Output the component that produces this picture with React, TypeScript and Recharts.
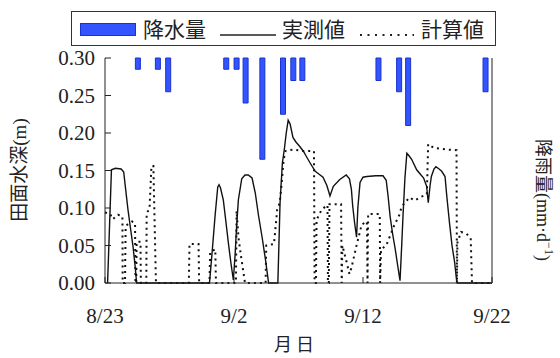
import { ComposedChart, Line, Bar, XAxis, YAxis } from "recharts";

const FONT = '"Liberation Serif", "Times New Roman", Tinos, "Noto Serif", "DejaVu Serif", serif';
const CJK = '"Noto Sans CJK JP", sans-serif';

// x axis: days after 8/23
const dateTicks = [0, 10, 20, 30];
const dateLabels = ["8/23", "9/2", "9/12", "9/22"];
const depthTicks = [0, 0.05, 0.1, 0.15, 0.2, 0.25, 0.3];
const rainTicks = [0, 5, 10, 15, 20];

// rainfall (mm/d), hanging from the top
const rainDays = [2.55, 4.1, 4.9, 9.4, 10.2, 10.9, 12.2, 13.8, 14.6, 15.3, 21.2, 22.8, 23.5, 29.5];
const rainMm = [1, 1, 3, 1, 1, 4, 9, 5, 2, 2, 2, 3, 6, 3];

// measured ponding depth (m)
const measuredDays = [
  0.2, 0.5, 0.8, 1.25, 1.45, 1.6, 1.78, 2.0, 2.17, 2.35, 2.45,
  8.1, 8.3, 8.53, 8.74, 8.84, 8.95, 9.17, 9.35, 9.56, 9.75, 9.95,
  10.08, 10.2, 10.34, 10.6, 10.85, 11.1, 11.4, 11.65, 11.9, 12.17, 12.45, 12.68,
  13.4, 13.57, 13.75, 13.9, 14.05, 14.2, 14.35, 14.57, 14.8, 15.1, 15.4, 15.6, 15.9,
  16.3, 16.6, 16.9, 17.2, 17.44, 17.7, 18.2, 18.7, 18.95, 19.1, 19.2, 19.35, 19.5,
  19.6, 19.77, 20.0, 20.3, 21.0, 21.55, 21.8, 21.95, 22.1, 22.3, 22.5, 22.7, 22.87,
  23.0, 23.1, 23.25, 23.4, 23.55, 23.77, 24.16, 24.4, 24.7, 24.93, 25.06, 25.2, 25.3,
  25.5, 25.65, 25.9, 26.1, 26.36, 26.5, 26.7, 26.9, 27.1, 27.26, 27.3, 30,
];
const measuredDepth = [
  0, 0.151, 0.153, 0.152, 0.148, 0.125, 0.098, 0.07, 0.049, 0.02, 0,
  0, 0.04, 0.089, 0.128, 0.131, 0.127, 0.111, 0.085, 0.054, 0.028, 0.004,
  0.036, 0.075, 0.111, 0.139, 0.144, 0.144, 0.14, 0.12, 0.09, 0.062, 0.03, 0,
  0, 0.107, 0.16, 0.178, 0.2, 0.217, 0.212, 0.194, 0.188, 0.182, 0.175, 0.169, 0.16,
  0.149, 0.145, 0.141, 0.13, 0.116, 0.129, 0.138, 0.144, 0.139, 0.125, 0.103, 0.08, 0.061,
  0.1, 0.134, 0.141, 0.142, 0.143, 0.143, 0.137, 0.115, 0.089, 0.065, 0.045, 0.022, 0.003,
  0.05, 0.089, 0.14, 0.173, 0.17, 0.165, 0.151, 0.146, 0.14, 0.129, 0.107, 0.13, 0.142,
  0.152, 0.155, 0.152, 0.149, 0.142, 0.115, 0.081, 0.05, 0.028, 0.003, 0, 0,
];

// calculated ponding depth (m)
const calcDays = [
  0, 0.4, 0.6, 1.0, 1.35, 1.37, 1.55, 1.6, 1.9, 2.1, 2.33, 2.36, 2.42, 2.45, 2.75, 2.78,
  3.2, 3.23, 3.45, 3.6, 3.75, 3.95, 6.5, 6.55, 7.25, 7.3, 8.1, 8.15, 8.55, 8.6,
  10.15, 10.2, 10.35, 10.55, 10.75, 10.85, 12.45, 12.5, 13.1, 13.35, 13.55, 13.7, 13.85, 14.0,
  14.6, 15.3, 16.2, 16.25, 16.35, 16.4, 16.8, 17.1, 17.25, 17.28, 17.35, 17.4, 18.3, 18.35,
  18.4, 18.7, 18.95, 19.1, 19.5, 19.9, 20.3, 20.35, 20.4, 21.3, 21.33, 21.4, 21.8, 22.1,
  22.4, 22.8, 23.0, 23.4, 23.6, 24.0, 24.5, 24.95, 25.05, 25.5, 26.5, 27.25, 27.28, 27.32,
  27.6, 28.0, 28.35, 28.45, 30,
];
const calcDepth = [
  0.094, 0.092, 0.085, 0.091, 0.089, 0, 0, 0.076, 0.08, 0.082, 0.08, 0, 0, 0.055, 0.055, 0,
  0, 0.094, 0.098, 0.156, 0.156, 0, 0, 0.052, 0.052, 0, 0, 0.041, 0.045, 0,
  0, 0.096, 0.06, 0.035, 0.012, 0, 0, 0.05, 0.052, 0.098, 0.107, 0.134, 0.165, 0.176,
  0.178, 0.176, 0.176, 0, 0, 0.084, 0.098, 0.102, 0.104, 0, 0, 0.105, 0.105, 0,
  0.05, 0.03, 0.012, 0.02, 0.05, 0.078, 0.082, 0, 0.092, 0.092, 0, 0.045, 0.05, 0.063,
  0.076, 0.09, 0.102, 0.11, 0.114, 0.11, 0.115, 0.118, 0.185, 0.18, 0.178, 0.177, 0, 0.054,
  0.068, 0.066, 0.06, 0, 0,
];

const rainData = rainDays.map((day, i) => ({ day, rain: rainMm[i] }));
const measuredData = measuredDays.map((day, i) => ({ day, depth: measuredDepth[i] }));
const calcData = calcDays.map((day, i) => ({ day, depth: calcDepth[i] }));

const tickStyle = { fill: "#222", fontSize: 21, fontFamily: FONT };

export default function App() {
  return (
    <div style={{ position: "absolute", left: 0, top: 0, width: 560, height: 358, background: "#fff" }}>
      <div style={{ position: "absolute", left: 0, top: 0 }}>
        <ComposedChart width={560} height={358} margin={{ top: 58, right: 28, bottom: 45, left: 45 }}>
          <XAxis
            xAxisId="b"
            dataKey="day"
            type="number"
            domain={[0, 30]}
            ticks={dateTicks}
            interval={0}
            tickFormatter={(v) => dateLabels[dateTicks.indexOf(v)]}
            height={30}
            tickSize={-6}
            tickMargin={31}
            stroke="#222"
            tick={tickStyle}
            label={{
              content: () => (
                <text x={294} y={351} textAnchor="middle" fontSize={18} fontFamily={CJK} fill="#222">
                  月 日
                </text>
              ),
            }}
          />
          <XAxis xAxisId="t" orientation="top" type="number" domain={[0, 30]} height={0} tick={false} tickLine={false} stroke="#888" />
          <YAxis
            yAxisId="d"
            domain={[0, 0.3]}
            ticks={depthTicks}
            interval={0}
            tickFormatter={(v) => v.toFixed(2)}
            width={60}
            tickSize={-6}
            tickMargin={16}
            stroke="#222"
            tick={tickStyle}
            label={{
              content: () => (
                <text x={26} y={170} textAnchor="middle" fontSize={19} fill="#222" transform="rotate(-90 26 170)">
                  <tspan fontFamily={CJK}>田面水深</tspan>
                  <tspan fontFamily={FONT}>(m)</tspan>
                </text>
              ),
            }}
          />
          <YAxis
            yAxisId="r"
            orientation="right"
            domain={[0, 20]}
            reversed
            ticks={rainTicks}
            interval={0}
            width={40}
            tickSize={-6}
            tickMargin={17}
            stroke="#222"
            tick={{ ...tickStyle, textAnchor: "start" }}
            label={{
              content: () => (
                <text x={537} y={200} textAnchor="middle" fontSize={18} fill="#222" transform="rotate(90 537 200)">
                  <tspan fontFamily={CJK}>降雨量</tspan>
                  <tspan fontFamily={FONT}>(mm·d</tspan>
                  <tspan fontFamily={FONT} fontSize={12} dy={-8}>−1</tspan>
                  <tspan fontFamily={FONT} dy={8}>)</tspan>
                </text>
              ),
            }}
          />
          <Line xAxisId="b" yAxisId="d" data={measuredData} dataKey="depth" type="linear" stroke="#111" strokeWidth={1.4} dot={false} isAnimationActive={false} />
          <Line xAxisId="b" yAxisId="d" data={calcData} dataKey="depth" type="linear" stroke="#111" strokeWidth={2} strokeDasharray="2 4" dot={false} isAnimationActive={false} />
        </ComposedChart>
      </div>
      <div style={{ position: "absolute", left: 0, top: 0 }}>
        <ComposedChart width={560} height={358} data={rainData} margin={{ top: 58, right: 68, bottom: 75, left: 105 }}>
          <XAxis dataKey="day" type="number" domain={[0, 30]} hide />
          <YAxis domain={[0, 20]} reversed hide />
          <Bar dataKey="rain" barSize={5} fill="#3355ff" stroke="#1a33cc" strokeWidth={1} isAnimationActive={false} />
        </ComposedChart>
      </div>
      <div
        style={{
          position: "absolute",
          left: 71,
          top: 11,
          width: 425,
          height: 35,
          boxSizing: "border-box",
          border: "1px solid #333",
          background: "#fff",
          fontFamily: CJK,
          fontSize: 21,
          color: "#222",
        }}
      >
        <div style={{ position: "absolute", left: 8, top: 11, width: 56, height: 13, boxSizing: "border-box", background: "#3355ff", border: "1px solid #1a33cc" }} />
        <span style={{ position: "absolute", left: 71, top: 3, lineHeight: "26px" }}>降水量</span>
        <svg style={{ position: "absolute", left: 146, top: 0 }} width={70} height={33}>
          <line x1={2} y1={23} x2={58} y2={23} stroke="#222" strokeWidth={1.4} />
        </svg>
        <span style={{ position: "absolute", left: 210, top: 3, lineHeight: "26px" }}>実測値</span>
        <svg style={{ position: "absolute", left: 286, top: 0 }} width={70} height={33}>
          <line x1={2} y1={23} x2={56} y2={23} stroke="#222" strokeWidth={2} strokeDasharray="2 5.5" />
        </svg>
        <span style={{ position: "absolute", left: 349, top: 3, lineHeight: "26px" }}>計算値</span>
      </div>
    </div>
  );
}
